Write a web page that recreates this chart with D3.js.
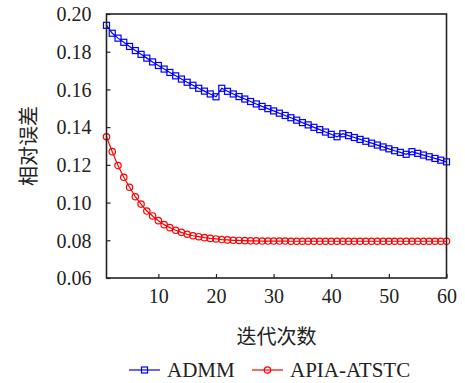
<!DOCTYPE html>
<html>
<head>
  <meta charset="utf-8">
  <title>相对误差</title>
  <script src="https://d3js.org/d3.v7.min.js"></script>
  <style>
    body { margin: 0; background: #fff; }
  </style>
</head>
<body>
  <script>
    var iterations = d3.range(1, 61);
    var admm = [0.1940, 0.1898, 0.1872, 0.1850, 0.1828, 0.1806, 0.1786, 0.1766, 0.1746, 0.1727,
                0.1708, 0.1690, 0.1672, 0.1655, 0.1638, 0.1622, 0.1606, 0.1591, 0.1576, 0.1561,
                0.1606, 0.1590, 0.1576, 0.1562, 0.1549, 0.1536, 0.1523, 0.1510, 0.1498, 0.1486,
                0.1474, 0.1462, 0.1450, 0.1437, 0.1424, 0.1412, 0.1399, 0.1387, 0.1374, 0.1362,
                0.1349, 0.1365, 0.1355, 0.1345, 0.1335, 0.1325, 0.1315, 0.1305, 0.1295, 0.1285,
                0.1275, 0.1266, 0.1256, 0.1270, 0.1261, 0.1252, 0.1243, 0.1234, 0.1225, 0.1216];
    var apia = [0.1349, 0.1270, 0.1196, 0.1134, 0.1081, 0.1031, 0.0992, 0.0955, 0.0929, 0.0904,
                0.0883, 0.0867, 0.0853, 0.0842, 0.0832, 0.0824, 0.0819, 0.0814, 0.0810, 0.0807,
                0.0804, 0.0802, 0.0800, 0.0799, 0.0798, 0.0797, 0.0797, 0.0796, 0.0796, 0.0796,
                0.0796, 0.0796, 0.0795, 0.0795, 0.0795, 0.0795, 0.0795, 0.0795, 0.0795, 0.0795,
                0.0795, 0.0795, 0.0795, 0.0795, 0.0795, 0.0795, 0.0795, 0.0795, 0.0795, 0.0795,
                0.0795, 0.0795, 0.0795, 0.0795, 0.0795, 0.0795, 0.0795, 0.0795, 0.0795, 0.0795];
    var xTicks = [10, 20, 30, 40, 50, 60];
    var yTicks = [0.06, 0.08, 0.10, 0.12, 0.14, 0.16, 0.18, 0.20];
    var seriesNames = ['ADMM', 'APIA-ATSTC'];
    var xLabel = '迭代次数', yLabel = '相对误差';

    var serif = '"Liberation Serif", serif';
    var width = 465, height = 383;
    var margin = { top: 14, right: 18.5, bottom: 105, left: 106.5 };
    var plotW = width - margin.left - margin.right;
    var plotH = height - margin.top - margin.bottom;

    var svg = d3.select('body').append('svg')
      .attr('width', width)
      .attr('height', height);

    var x = d3.scaleLinear().domain([1, 60]).range([0, plotW]);
    var y = d3.scaleLinear().domain([0.06, 0.20]).range([plotH, 0]);

    var g = svg.append('g')
      .attr('transform', 'translate(' + margin.left + ',' + margin.top + ')');

    var xAxis = g.append('g')
      .attr('transform', 'translate(0,' + plotH + ')')
      .call(d3.axisBottom(x).tickValues(xTicks).tickSize(-4).tickSizeOuter(0).tickPadding(14));
    var yAxis = g.append('g')
      .call(d3.axisLeft(y).tickValues(yTicks).tickFormat(d3.format('.2f'))
        .tickSize(-4).tickSizeOuter(0).tickPadding(15));
    [xAxis, yAxis].forEach(function (a) {
      a.attr('font-family', serif).attr('font-size', 20);
      a.select('.domain').remove();
      a.selectAll('.tick line').attr('stroke', '#222').attr('stroke-width', 1.2);
      a.selectAll('.tick text').attr('fill', '#222');
    });
    xAxis.selectAll('.tick text').attr('dy', '0.55em');
    yAxis.selectAll('.tick text').attr('dy', '0.34em');

    // series lines
    var line = d3.line().x(function (d) { return x(d[0]); }).y(function (d) { return y(d[1]); });
    var admmPts = iterations.map(function (it, i) { return [it, admm[i]]; });
    var apiaPts = iterations.map(function (it, i) { return [it, apia[i]]; });

    g.append('path').datum(apiaPts).attr('d', line)
      .attr('fill', 'none').attr('stroke', '#ff0000').attr('stroke-width', 1.2);
    g.selectAll('.apia').data(apiaPts).enter().append('circle')
      .attr('class', 'apia')
      .attr('cx', function (d) { return x(d[0]); })
      .attr('cy', function (d) { return y(d[1]); })
      .attr('r', 3.2)
      .attr('fill', 'none').attr('stroke', '#ff0000').attr('stroke-width', 1.2);

    g.append('path').datum(admmPts).attr('d', line)
      .attr('fill', 'none').attr('stroke', '#0000ff').attr('stroke-width', 1.2);
    g.selectAll('.admm').data(admmPts).enter().append('rect')
      .attr('class', 'admm')
      .attr('x', function (d) { return x(d[0]) - 3; })
      .attr('y', function (d) { return y(d[1]) - 3; })
      .attr('width', 6).attr('height', 6)
      .attr('fill', 'none').attr('stroke', '#0000ff').attr('stroke-width', 1.2);

    // frame
    g.append('rect')
      .attr('width', plotW).attr('height', plotH)
      .attr('fill', 'none').attr('stroke', '#222').attr('stroke-width', 1.6);

    // axis titles
    svg.append('text')
      .attr('x', margin.left + plotW / 2).attr('y', 344)
      .attr('text-anchor', 'middle')
      .attr('font-family', 'Noto Sans CJK SC').attr('font-size', 20)
      .attr('fill', '#222')
      .text(xLabel);
    svg.append('text')
      .attr('transform', 'translate(36,' + (margin.top + plotH / 2) + ') rotate(-90)')
      .attr('text-anchor', 'middle')
      .attr('font-family', 'Noto Sans CJK SC').attr('font-size', 20)
      .attr('fill', '#222')
      .text(yLabel);

    // legend
    var legend = svg.append('g').attr('transform', 'translate(0,370)');
    var items = [
      { name: seriesNames[0], color: '#0000ff', shape: 'rect', x0: 129 },
      { name: seriesNames[1], color: '#ff0000', shape: 'circle', x0: 252 }
    ];
    items.forEach(function (it) {
      legend.append('line')
        .attr('x1', it.x0).attr('x2', it.x0 + 31)
        .attr('stroke', it.color).attr('stroke-width', 1.2);
      if (it.shape === 'rect') {
        legend.append('rect').attr('x', it.x0 + 12.5).attr('y', -3).attr('width', 6).attr('height', 6)
          .attr('fill', 'none').attr('stroke', it.color).attr('stroke-width', 1.2);
      } else {
        legend.append('circle').attr('cx', it.x0 + 15.5).attr('r', 3.2)
          .attr('fill', 'none').attr('stroke', it.color).attr('stroke-width', 1.2);
      }
      legend.append('text')
        .attr('x', it.x0 + 38).attr('dy', '0.35em')
        .attr('font-family', serif).attr('font-size', 21).attr('fill', '#222')
        .text(it.name);
    });
  </script>
</body>
</html>
